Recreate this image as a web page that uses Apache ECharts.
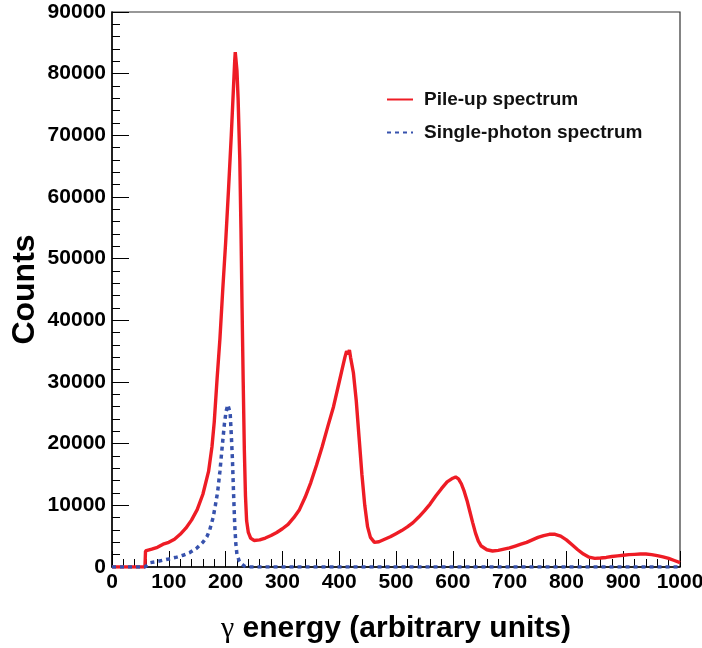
<!DOCTYPE html>
<html>
<head>
<meta charset="utf-8">
<script src="https://cdn.jsdelivr.net/npm/echarts@6/dist/echarts.min.js"></script>
<style>
html,body{margin:0;padding:0;background:#fff;}
#chart{width:702px;height:648px;}
</style>
</head>
<body>
<div id="chart"></div>
<script>
// Pile-up spectrum (red, solid)
const pileupEnergy = [0, 58, 59, 70, 80, 90, 100, 110, 120, 130, 140, 150, 160, 170, 176, 180, 185, 190, 195, 200, 205, 210, 214, 216, 217, 218, 220, 222, 225, 227, 229, 231, 233, 235, 237, 240, 244, 250, 260, 270, 280, 290, 300, 310, 320, 330, 340, 350, 360, 370, 380, 390, 400, 405, 410, 413, 416, 418, 420, 425, 430, 435, 440, 445, 450, 455, 462, 470, 480, 490, 500, 510, 520, 530, 540, 550, 560, 570, 580, 590, 600, 605, 610, 615, 620, 625, 630, 635, 640, 645, 650, 660, 670, 680, 690, 700, 710, 720, 730, 740, 750, 760, 770, 780, 790, 800, 810, 820, 830, 840, 850, 860, 870, 880, 890, 900, 910, 920, 930, 940, 950, 960, 970, 980, 990, 1000];
const pileupCounts = [0, 0, 2600, 2900, 3200, 3700, 4000, 4500, 5300, 6300, 7600, 9300, 11800, 15500, 19500, 23500, 30500, 37000, 45000, 52500, 61000, 70000, 78000, 82000, 83500, 82500, 80500, 76000, 66000, 55000, 42000, 30000, 19000, 11500, 7500, 5600, 4700, 4300, 4400, 4700, 5100, 5600, 6200, 6900, 8000, 9300, 11300, 13700, 16500, 19500, 22800, 26000, 30000, 32000, 34000, 35000, 34500, 35200, 34000, 31500, 27000, 21000, 15000, 10000, 6500, 4800, 4000, 4100, 4500, 4900, 5400, 5900, 6500, 7200, 8100, 9100, 10200, 11500, 12700, 13800, 14400, 14600, 14300, 13500, 12300, 10800, 9000, 7200, 5500, 4200, 3400, 2800, 2600, 2700, 2900, 3100, 3400, 3700, 4000, 4400, 4800, 5100, 5300, 5300, 5000, 4400, 3600, 2800, 2100, 1600, 1400, 1450, 1550, 1700, 1800, 1900, 2000, 2050, 2100, 2100, 2000, 1850, 1650, 1400, 1050, 700];

// Single-photon spectrum (blue, dotted)
const singleEnergy = [0, 58, 60, 67, 80, 90, 100, 114, 125, 137, 149, 160, 167, 172, 178, 182, 186, 190, 194, 198, 201, 204, 206, 208, 210, 212, 214, 216, 218, 220, 224, 228, 233, 238, 1000];
const singleCounts = [0, 0, 200, 700, 900, 1100, 1300, 1600, 1900, 2350, 3050, 4000, 4900, 6000, 8000, 10000, 12200, 15500, 19500, 23300, 25300, 26300, 26000, 25000, 21500, 17500, 12000, 7000, 3800, 2000, 1000, 500, 150, 0, 0];

const seriesNames = ['Pile-up spectrum', 'Single-photon spectrum'];
const xAxisTitle = '{g|γ} energy (arbitrary units)';
const yAxisTitle = 'Counts';

const zip = (a, b) => a.map((v, i) => [v, b[i]]);

const chart = echarts.init(document.getElementById('chart'), null, {renderer: 'canvas'});
const FONT = 'Liberation Sans, Arial, Helvetica, sans-serif';
const plain = v => String(v);

chart.setOption({
  animation: false,
  backgroundColor: '#fff',
  grid: {
    left: 112, right: 22, top: 12, bottom: 81,
    containLabel: false, outerBoundsMode: 'none',
    show: true, borderColor: '#333', borderWidth: 1.2, backgroundColor: 'transparent'
  },
  legend: {
    orient: 'vertical',
    left: 386, top: 90, padding: 0,
    itemWidth: 26, itemHeight: 14, itemGap: 14,
    data: seriesNames,
    itemStyle: {opacity: 0},
    textStyle: {fontFamily: FONT, fontWeight: 'bold', fontSize: 19, color: '#111', padding: [0, 0, 0, 6]}
  },
  xAxis: {
    type: 'value', min: 0, max: 1000, interval: 100,
    name: xAxisTitle, nameLocation: 'middle', nameGap: 47, nameMoveOverlap: false,
    nameTextStyle: {
      fontFamily: FONT, fontWeight: 'bold', fontSize: 30, color: '#000',
      rich: {g: {fontFamily: 'Liberation Serif, DejaVu Serif, serif', fontWeight: 'normal', fontSize: 30, color: '#000'}}
    },
    axisLine: {show: true, onZero: false, lineStyle: {color: '#000', width: 1.5}},
    axisTick: {show: true, inside: true, length: 16, lineStyle: {color: '#000', width: 1}},
    minorTick: {show: true, splitNumber: 5, length: 8, lineStyle: {color: '#000', width: 1}},
    splitLine: {show: false},
    axisLabel: {fontFamily: FONT, fontWeight: 'bold', fontSize: 21, color: '#000', margin: 5, formatter: plain}
  },
  yAxis: {
    type: 'value', min: 0, max: 90000, interval: 10000,
    name: yAxisTitle, nameLocation: 'middle', nameGap: 71, nameMoveOverlap: false,
    nameTextStyle: {fontFamily: FONT, fontWeight: 'bold', fontSize: 32, color: '#000'},
    axisLine: {show: true, onZero: false, lineStyle: {color: '#000', width: 1.5}},
    axisTick: {show: true, inside: true, length: 17, lineStyle: {color: '#000', width: 1}},
    minorTick: {show: true, splitNumber: 5, length: 8, lineStyle: {color: '#000', width: 1}},
    splitLine: {show: false},
    axisLabel: {fontFamily: FONT, fontWeight: 'bold', fontSize: 21, color: '#000', margin: 6, formatter: plain}
  },
  series: [
    {
      name: seriesNames[0], type: 'line', data: zip(pileupEnergy, pileupCounts),
      symbol: 'none', showSymbol: false, smooth: false,
      lineStyle: {color: '#ee1c25', width: 3.4},
      itemStyle: {color: '#ee1c25'}, z: 2
    },
    {
      name: seriesNames[1], type: 'line', data: zip(singleEnergy, singleCounts),
      symbol: 'none', showSymbol: false, smooth: false,
      lineStyle: {color: '#3752ad', width: 3.5, type: [4, 4], cap: 'butt'},
      itemStyle: {color: '#3752ad'}, z: 3
    }
  ]
});
</script>
</body>
</html>
